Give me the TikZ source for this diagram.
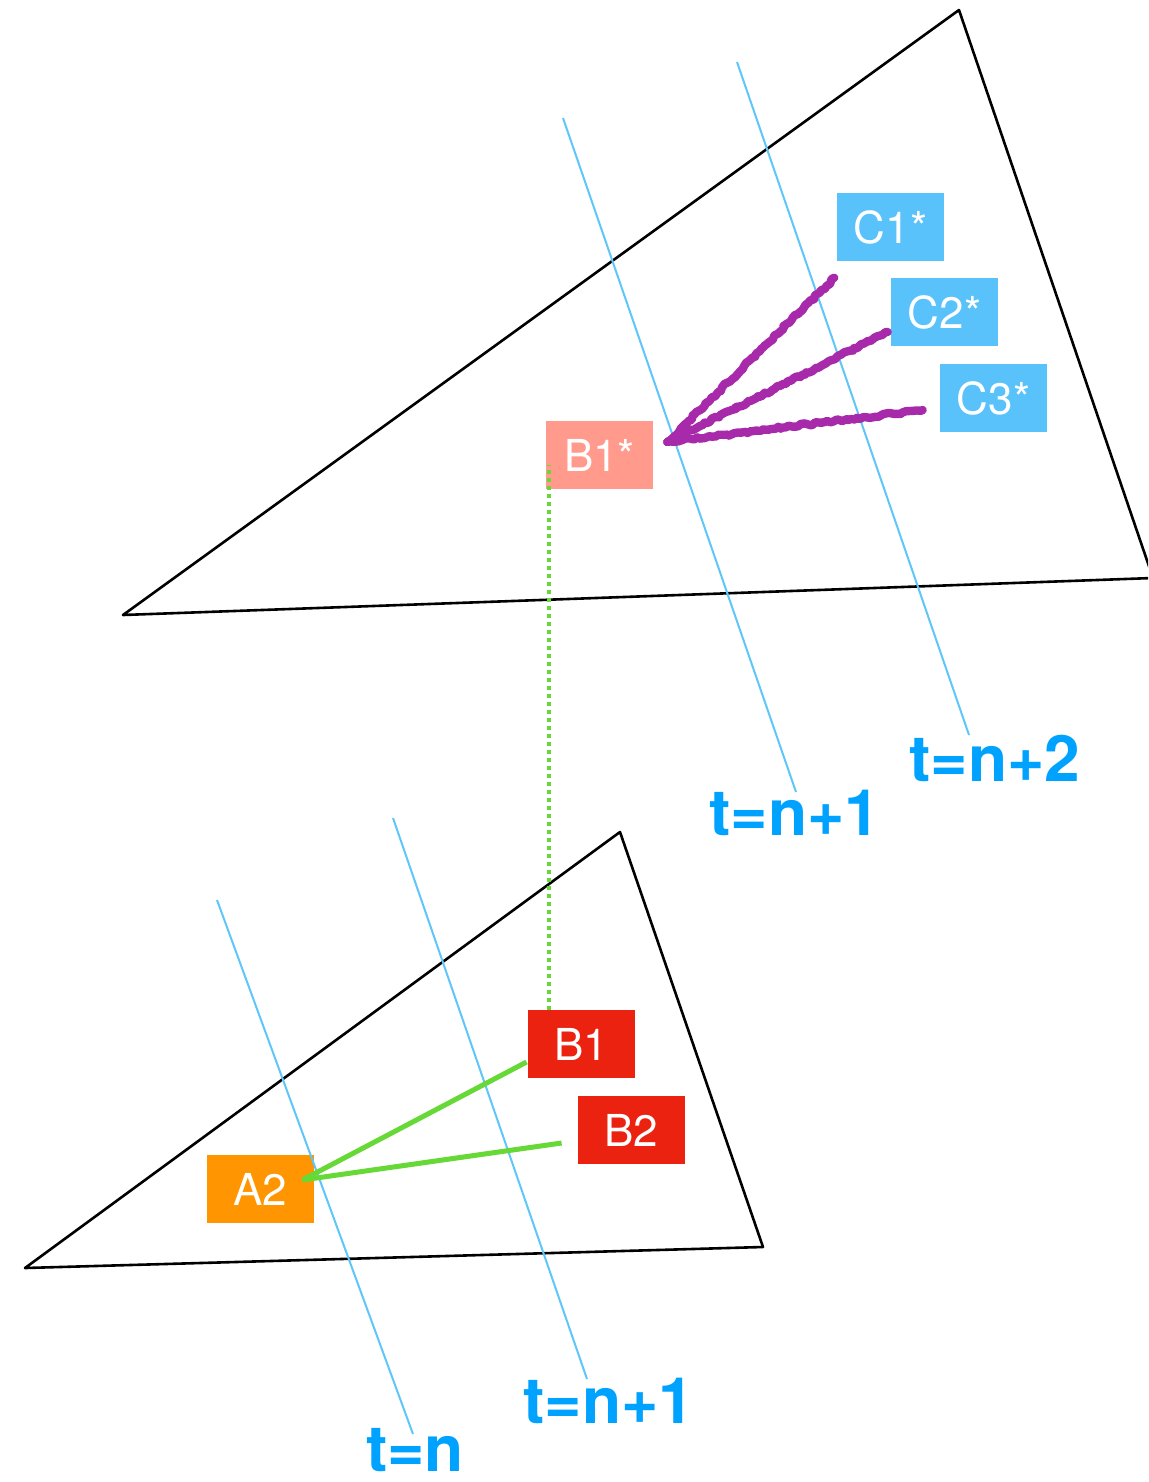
\documentclass[tikz,border=0pt]{standalone}
\usepackage{fontspec}
\setmainfont{TeX Gyre Heros}
\usetikzlibrary{calc,decorations.pathmorphing}
\definecolor{bleubox}{RGB}{90,194,250}
\definecolor{bleutrait}{RGB}{95,198,250}
\definecolor{bleutexte}{RGB}{0,162,255}
\definecolor{saumon}{RGB}{255,154,140}
\definecolor{rouge}{RGB}{236,34,16}
\definecolor{orangeA}{RGB}{255,149,0}
\definecolor{vert}{RGB}{102,217,54}
\definecolor{mauve}{RGB}{166,42,170}
\begin{document}
\begin{tikzpicture}[join=round,x=0.5pt,y=-0.5pt]
\tikzstyle{boite} = [minimum width=53.5pt,minimum height=34pt,inner sep=0pt,text=white,font=\fontsize{22}{22}\selectfont]
\tikzstyle{temps} = [text=bleutexte,font=\fontsize{32}{32}\selectfont\bfseries,anchor=base,inner sep=0pt]
\tikzstyle{ligne} = [bleutrait,line width=1pt]
\tikzstyle{tri} = [black,line width=1.3pt]
\tikzstyle{lien} = [vert,line width=2.5pt]
\tikzstyle{crayon} = [mauve,line width=4.2pt,line cap=round,decorate,decoration={random steps,segment length=1.5pt,amplitude=0.7pt}]
%cadre
\clip (0,0) rectangle (1148,1482);
%les deux triangles
\draw[tri] (123,615)--(959,10)--(1153,578)--cycle; %triangle du haut
\draw[tri] (25,1268)--(620,832)--(763,1247)--cycle; %triangle du bas
%les boites
\node[boite,fill=bleubox] (C1) at (890.5,227) {C1*};
\node[boite,fill=bleubox] (C2) at (944.5,312) {C2*};
\node[boite,fill=bleubox] (C3) at (993.5,398) {C3*};
\node[boite,fill=saumon] (B1s) at (599.5,455) {B1*};
\node[boite,fill=rouge] (B1) at (581.5,1044) {B1};
\node[boite,fill=rouge] (B2) at (631.5,1130) {B2};
\node[boite,fill=orangeA] (A2) at (260.5,1189) {A2};
%les etiquettes de temps
\node[temps] (tn) at (415,1471) {t=n};
\node[temps] (tnbas) at (609,1423) {t=n+1};
\node[temps] (tnhaut) at (795,835) {t=n+1};
\node[temps] (tndeux) at (995,781) {t=n+2};
%extremites des lignes de temps
\coordinate (L1h) at (217,900);   \coordinate (L1b) at (413,1434);
\coordinate (L2h) at (393,818);   \coordinate (L2b) at (587,1379);
\coordinate (L3h) at (563,118);   \coordinate (L3b) at (796,792);
\coordinate (L4h) at (737,62);    \coordinate (L4b) at (969,735);
%tracer les lignes de temps
\draw[ligne] (L1h)--(L1b);
\draw[ligne] (L2h)--(L2b);
\draw[ligne] (L3h)--(L3b);
\draw[ligne] (L4h)--(L4b);
%liens du bas
\draw[lien] ($(A2.east)+(-12,-9)$)--($(B1.west)+(-1,18)$);
\draw[lien] ($(A2.east)+(-12,-9)$)--($(B2.west)+(-16,13)$);
\draw[vert,line width=2pt,dash pattern=on 2pt off 2pt] ($(B1.north)+(-32.5,0)$)--($(B1s.south)+(-50.5,-24)$);
%liens du haut
\draw[crayon] ($(B1s.east)+(14,-13)$)--($(C1.south west)+(-2,16)$);
\draw[crayon] ($(B1s.east)+(14,-13)$)--($(C2.west)+(-3,20)$);
\draw[crayon] ($(B1s.east)+(14,-13)$)--($(C3.west)+(-17,12)$);
\end{tikzpicture}
\end{document}
